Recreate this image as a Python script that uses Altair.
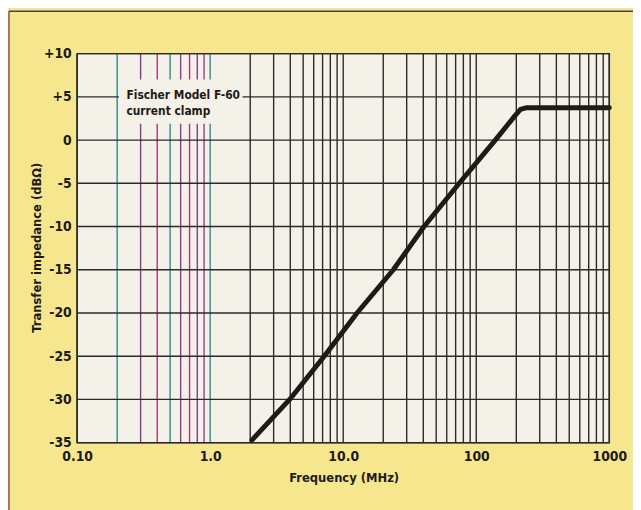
import altair as alt
import pandas as pd

# ---- data ----
freq_MHz = [2.06, 3.96, 7.2, 12.7, 23.8, 40.5, 74.5, 139, 195, 215, 240, 1000]
impedance_dB = [-34.7, -30, -25, -20, -15, -10, -5, 0, 2.8, 3.55, 3.75, 3.75]

x_ticks = [0.1, 1, 10, 100, 1000]
y_ticks = [-35, -30, -25, -20, -15, -10, -5, 0, 5, 10]

grid_freqs = [k * 10.0 ** d for d in (-1, 0, 1, 2) for k in range(1, 10)] + [1000.0]
# scan mis-registration colours on the 0.2 ... 1.0 grid lines
tinted_freqs = [0.2, 0.3, 0.4, 0.5, 0.6, 0.7, 0.8, 0.9, 1.0]
tinted_colors = ["#2f8a8a", "#7b3d8c", "#b1326c", "#2f8a8a", "#93378f",
                 "#a6377a", "#7b3d8c", "#9a3a8c", "#2f8a8a"]

label_lines = ["Fischer Model F-60", "current clamp"]
label_y = [4.75, 2.85]

# ---- styling ----
FONT = "DejaVu Sans Condensed"
INK = "#1e1a18"
GRID = "#2a2a2a"
PLOT_BG = "#f4f1e9"
YELLOW = "#f6e78f"
W, H = 539, 394

tint = dict(zip([round(f, 3) for f in tinted_freqs], tinted_colors))
vgrid = pd.DataFrame({
    "freq": grid_freqs,
    "color": [tint.get(round(f, 3), GRID) for f in grid_freqs],
})
hgrid = pd.DataFrame({"db": y_ticks})
curve = pd.DataFrame({"freq": freq_MHz, "db": impedance_dB})
labels = pd.DataFrame({"text": label_lines, "db": label_y, "freq": [0.235, 0.235]})
box = pd.DataFrame({"f1": [0.206], "f2": [1.75], "d1": [1.9], "d2": [7.0]})

xscale = alt.Scale(type="log", domain=[0.1, 1000], nice=False)
yscale = alt.Scale(domain=[-35, 10], nice=False)

x_axis = alt.Axis(
    values=x_ticks, title="Frequency (MHz)", grid=False, ticks=False,
    domain=False, labelFont=FONT, labelFontSize=14, labelFontWeight="bold",
    labelColor=INK, labelPadding=7, labelFlush=False, labelOverlap=False,
    labelExpr="datum.value < 0.5 ? '0.10' : datum.value < 5 ? '1.0' : datum.value < 50 ? '10.0' : datum.value < 500 ? '100' : '1000'",
    titleFont=FONT, titleFontSize=13, titleFontWeight="bold",
    titleColor=INK, titleX=270, titleY=39, titleBaseline="alphabetic",
    titleAlign="center",
)
y_axis = alt.Axis(
    values=y_ticks, title="Transfer impedance (dBΩ)", grid=False,
    ticks=False, domain=False, labelFont=FONT, labelFontSize=14,
    labelFontWeight="bold", labelColor=INK, labelPadding=6,
    labelOverlap=False,
    labelExpr="datum.value > 0 ? '+' + datum.value : '' + datum.value",
    titleFont=FONT, titleFontSize=13, titleFontWeight="bold",
    titleColor=INK, titleX=-37, titleY=196, titleAngle=-90,
    titleBaseline="alphabetic", titleAlign="center",
)

X = lambda f: alt.X(f, scale=xscale, axis=x_axis)
Y = lambda f: alt.Y(f, scale=yscale, axis=y_axis)

vrules = alt.Chart(vgrid).mark_rule(strokeWidth=1.4).encode(
    x=X("freq:Q"),
    color=alt.Color("color:N", scale=None),
)
hrules = alt.Chart(hgrid).mark_rule(strokeWidth=1.4, color=GRID).encode(
    y=Y("db:Q"),
)
boxmark = alt.Chart(box).mark_rect(color=PLOT_BG).encode(
    x=X("f1:Q"), x2="f2:Q",
    y=Y("d1:Q"), y2="d2:Q",
)
text = alt.Chart(labels).mark_text(
    align="left", baseline="alphabetic", font=FONT, fontSize=12,
    fontWeight="bold", color=INK,
).encode(
    x=X("freq:Q"),
    y=Y("db:Q"),
    text="text:N",
)
line = alt.Chart(curve).mark_line(
    color="#1f1a17", strokeWidth=5, strokeCap="round", strokeJoin="round"
).encode(
    x=X("freq:Q"),
    y=Y("db:Q"),
)

one = alt.Data(values=[{}])
left_edge = alt.Chart(one).mark_rule(color="#8e4f48", strokeWidth=1.5).encode(
    x=alt.value(-69), y=alt.value(-43), y2=alt.value(H + 70)
)
top_edge = alt.Chart(one).mark_rule(color="#4a4540", strokeWidth=1.5).encode(
    x=alt.value(-69), x2=alt.value(W + 30), y=alt.value(-43)
)

chart = alt.layer(
    vrules, hrules, boxmark, text, line, left_edge, top_edge
).properties(
    width=W, height=H,
    padding={"left": 70, "top": 43, "right": 24, "bottom": 65},
    autosize=alt.AutoSizeParams(type="none"),
    background=YELLOW,
).configure_view(
    stroke=GRID, strokeWidth=1.5, fill=PLOT_BG,
)

chart.save("out.html", embed_options={"renderer": "svg", "actions": False})
